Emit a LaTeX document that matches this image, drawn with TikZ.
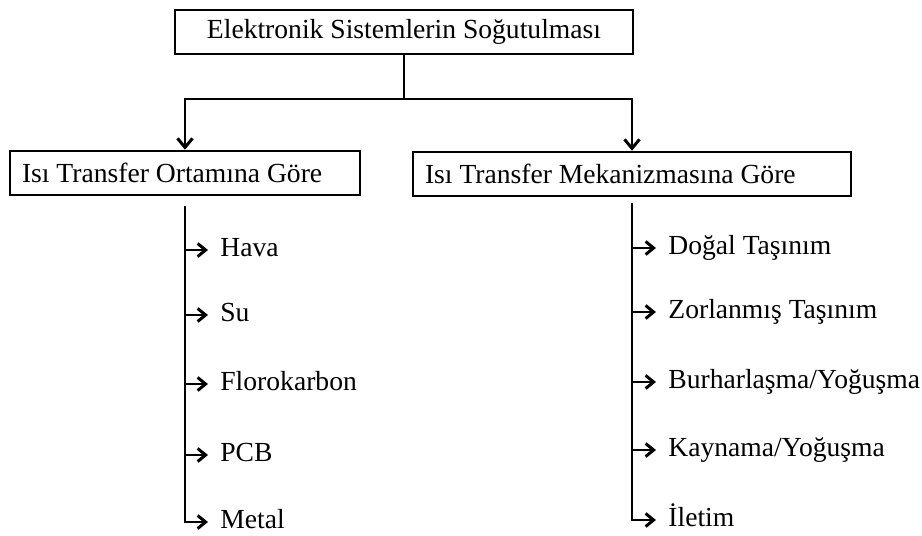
\documentclass[tikz,border=0pt]{standalone}
\usepackage{fontspec}
\setmainfont{Liberation Serif}
\usetikzlibrary{calc}
\usetikzlibrary{arrows.meta}

\begin{document}
\begin{tikzpicture}[x=0.5pt,y=-0.5pt,
        kutu/.style={draw=black,rectangle,line width=1.3pt,minimum height=22pt,inner xsep=6pt,font=\fontsize{13.8}{16}\selectfont},
        oge/.style={anchor=west,inner xsep=6pt,inner ysep=0pt,text height=0.66em,text depth=0pt,font=\fontsize{13.8}{16}\selectfont},
        hat/.style={line width=1.3pt},
        ok/.style={hat,-{Straight Barb[length=4.5pt,width=7.5pt,line width=1.5pt]}},
        yanok/.style={hat,-{Straight Barb[length=4pt,width=6.5pt,line width=1.5pt]}}
      ]
      \useasboundingbox (0,0) rectangle (922,536);
      \node[kutu,minimum width=229pt] (ana) at (404,32) {Elektronik Sistemlerin Soğutulması};
      \node[kutu,text width=163pt,align=flush left] (ortam) at (185,173) {Isı Transfer Ortamına Göre};
      \node[kutu,text width=207pt,align=flush left] (mek) at (632,174) {Isı Transfer Mekanizmasına Göre};
      \coordinate (dal) at (404,99);
      \draw[hat] (ana.south) -- (dal);
      \draw[ok] (dal) -| (ortam.north);
      \draw[ok] (dal) -| (mek.north);
      % ortama gore
      \foreach \ad/\y [count=\i] in {Hava/250,Su/315,Florokarbon/384,PCB/455,Metal/522}
        \node[oge] (o\i) at (208,\y) {\ad};
      \draw[yanok] ([yshift=-5pt]ortam.south) |- (o5.west);
      \foreach \i in {1,...,4}
        \draw[yanok] (ortam.south |- o\i.west) -- (o\i.west);
      % mekanizmaya gore
      \foreach \ad/\y [count=\i] in {Doğal Taşınım/248,Zorlanmış Taşınım/312,{Burharlaşma/Yoğuşma}/382,{Kaynama/Yoğuşma}/450,İletim/520}
        \node[oge] (m\i) at (656,\y) {\ad};
      \draw[yanok] ([yshift=-3pt]mek.south) |- (m5.west);
      \foreach \i in {1,...,4}
        \draw[yanok] (mek.south |- m\i.west) -- (m\i.west);
    \end{tikzpicture}
\end{document}
